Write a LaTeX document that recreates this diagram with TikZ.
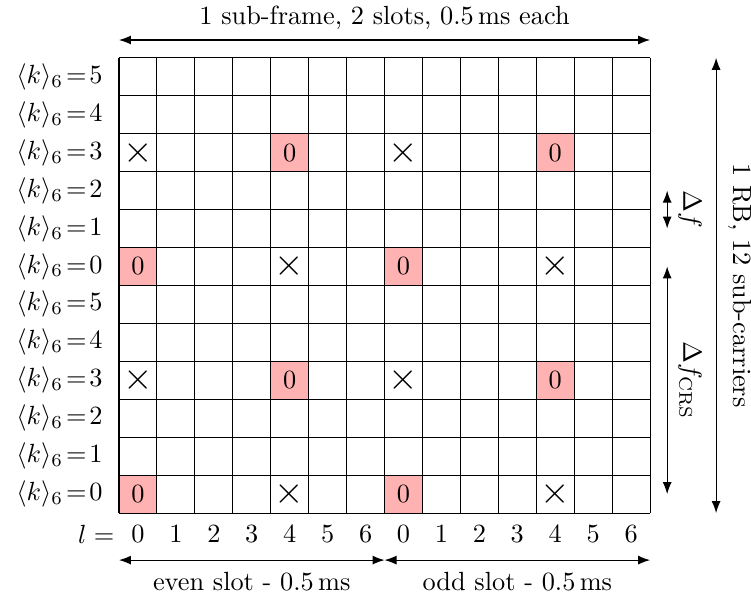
\documentclass[tikz,border=0pt]{standalone}
\usetikzlibrary{arrows.meta}

\begin{document}
\begin{tikzpicture}[
    x=0.507cm, y=0.507cm,
    rs/.style={fill=red!30},
    cross/.style={font=\Large},
    klabel/.style={anchor=east, inner sep=1pt},
    dim/.style={{Latex[length=1.6mm]}-{Latex[length=1.6mm]}}
]
\useasboundingbox (-3.137,-2.241) rectangle (16.66,13.525);
% reference signal resource elements
\foreach \c/\r in {4/9, 11/9, 0/6, 7/6, 4/3, 11/3, 0/0, 7/0}
  \fill[rs] (\c,\r) rectangle ++(1,1);
\draw[step=1] (0,0) grid (14,12);
\foreach \c/\r in {4/9, 11/9, 0/6, 7/6, 4/3, 11/3, 0/0, 7/0}
  \node (rs\c-\r) at (\c+0.5,\r+0.5) {0};
\foreach \c/\r in {0/9, 7/9, 4/6, 11/6, 0/3, 7/3, 4/0, 11/0}
  \node[cross] (cr\c-\r) at (\c+0.5,\r+0.5) {$\times$};
% sub-carrier labels
\foreach \r in {0,...,11} {
  \pgfmathtruncatemacro\k{mod(\r,6)}
  \node[klabel] (k\r) at (-0.35,\r+0.5) {$\langle k\rangle_6\!=\!\k$};
}
% symbol labels
\node (lname) at (-0.6,-0.55) {$l=$};
\foreach \c in {0,...,13} {
  \pgfmathtruncatemacro\l{mod(\c,7)}
  \node (l\c) at (\c+0.5,-0.55) {\l};
}
% time arrows
\coordinate (sfL) at (0,12.47);
\coordinate (sfR) at (14,12.47);
\draw[dim] (sfL) -- (sfR);
\node (sftext) at (7,13.06) {1 sub-frame, 2 slots, 0.5\,ms each};
\coordinate (evL) at (0,-1.24);
\coordinate (evR) at (7,-1.24);
\coordinate (odR) at (14,-1.24);
\draw[dim] (evL) -- (evR);
\draw[dim] (evR) -- (odR);
\node (evtext) at (3.5,-1.8) {even slot - 0.5\,ms};
\node (odtext) at (10.5,-1.8) {odd slot - 0.5\,ms};
% frequency arrows
\coordinate (dfT) at (14.45,8.5);
\coordinate (dfB) at (14.45,7.5);
\draw[dim] (dfT) -- (dfB);
\node[rotate=-90] (dftext) at (15.05,8) {$\Delta f$};
\coordinate (crsT) at (14.45,6.5);
\coordinate (crsB) at (14.45,0.5);
\draw[dim] (crsT) -- (crsB);
\node[rotate=-90] (crstext) at (15.05,3.5) {$\Delta f_{\mathrm{CRS}}$};
\coordinate (rbT) at (15.74,12);
\coordinate (rbB) at (15.74,0);
\draw[dim] (rbT) -- (rbB);
\node[rotate=-90] (rbtext) at (16.37,6) {1 RB, 12 sub-carriers};
\end{tikzpicture}
\end{document}
